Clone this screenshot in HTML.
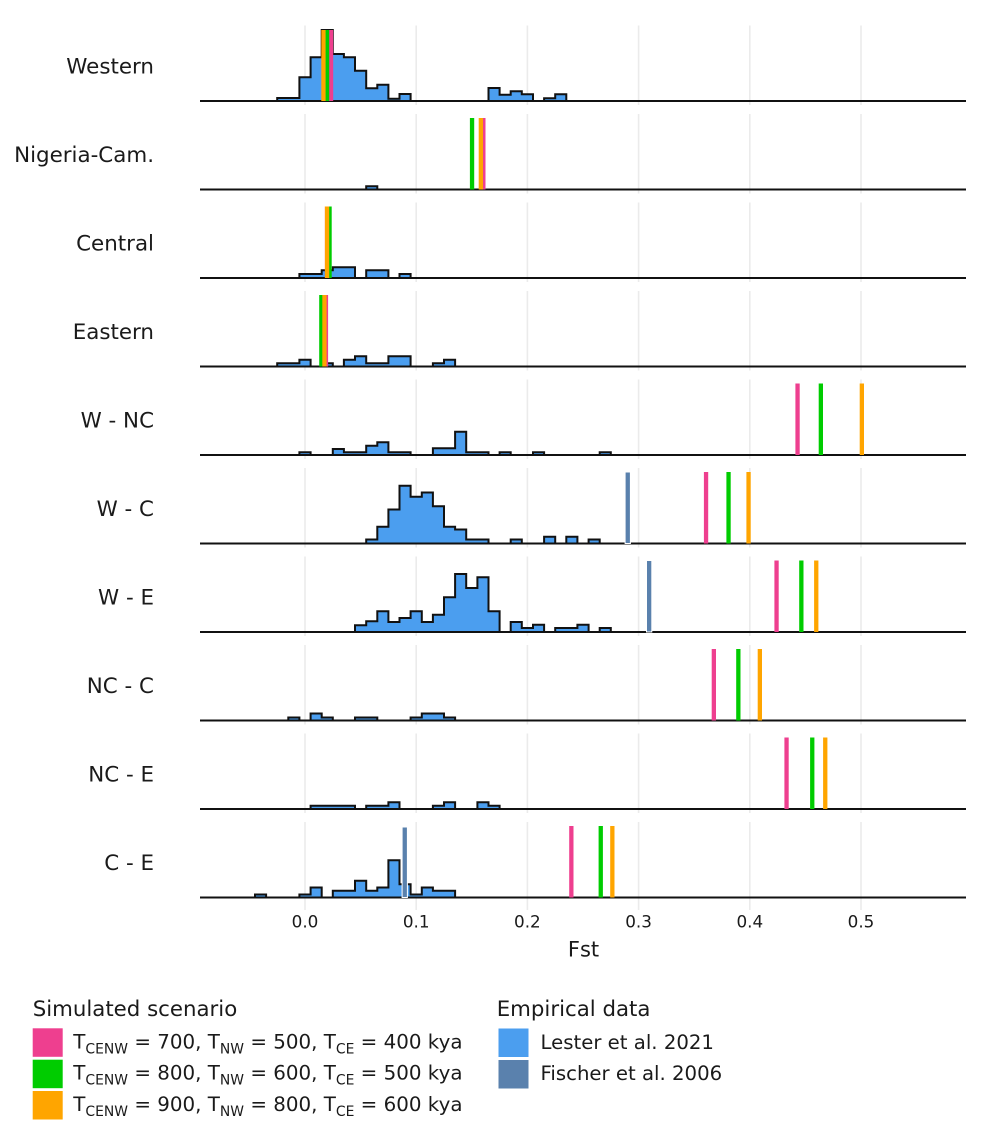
<!DOCTYPE html>
<html>
<head>
<meta charset="utf-8">
<style>
html,body{margin:0;padding:0;background:#fff;}
svg{display:block;}
text{font-family:"DejaVu Sans","Liberation Sans",sans-serif;fill:#1a1a1a;white-space:pre;}
</style>
</head>
<body>
<svg width="1006" height="1141" viewBox="0 0 1006 1141" xmlns="http://www.w3.org/2000/svg">
<rect x="0" y="0" width="1006" height="1141" fill="#fff"/>

<!-- gridlines -->
<g stroke="#ebebeb" stroke-width="1.6">
  <path d="M305 25.5V105 M416.2 25.5V105 M527.4 25.5V105 M638.6 25.5V105 M749.8 25.5V105 M861 25.5V105"/>
  <path d="M305 114V193.5 M416.2 114V193.5 M527.4 114V193.5 M638.6 114V193.5 M749.8 114V193.5 M861 114V193.5"/>
  <path d="M305 202.5V282 M416.2 202.5V282 M527.4 202.5V282 M638.6 202.5V282 M749.8 202.5V282 M861 202.5V282"/>
  <path d="M305 291V370.5 M416.2 291V370.5 M527.4 291V370.5 M638.6 291V370.5 M749.8 291V370.5 M861 291V370.5"/>
  <path d="M305 379.5V459 M416.2 379.5V459 M527.4 379.5V459 M638.6 379.5V459 M749.8 379.5V459 M861 379.5V459"/>
  <path d="M305 468V547.5 M416.2 468V547.5 M527.4 468V547.5 M638.6 468V547.5 M749.8 468V547.5 M861 468V547.5"/>
  <path d="M305 556.5V636 M416.2 556.5V636 M527.4 556.5V636 M638.6 556.5V636 M749.8 556.5V636 M861 556.5V636"/>
  <path d="M305 645V724.5 M416.2 645V724.5 M527.4 645V724.5 M638.6 645V724.5 M749.8 645V724.5 M861 645V724.5"/>
  <path d="M305 733.5V813 M416.2 733.5V813 M527.4 733.5V813 M638.6 733.5V813 M749.8 733.5V813 M861 733.5V813"/>
  <path d="M305 822V910 M416.2 822V910 M527.4 822V910 M638.6 822V910 M749.8 822V910 M861 822V910"/>
</g>

<!-- histogram fills -->
<g fill="#4b9eef" stroke="none">
  <path d="M277.2,101 V98 H299.4 V77.3 H310.6 V57.3 H321.7 V30 H332.8 V54 H343.9 V57.3 H355.0 V70.7 H366.2 V88.3 H377.3 V84.7 H388.4 V98.7 H399.5 V94 H410.6 V101 H488.5 V88 H499.6 V94.7 H510.7 V91.3 H521.8 V94.3 H533.0 V101 H544.1 V98.3 H555.2 V94.3 H566.3 V101 Z"/>
  <path d="M366.2,189.5 V186.2 H377.3 V189.5 Z"/>
  <path d="M299.4,278 V274 H321.7 V270.3 H332.8 V267.3 H355.0 V278 H366.2 V270.3 H388.4 V278 H399.5 V274 H410.6 V278 Z"/>
  <path d="M277.2,366.5 V363.2 H299.4 V359.8 H310.6 V366.5 H321.7 V363.2 H332.8 V366.5 H343.9 V359.8 H355.0 V356.2 H366.2 V363.2 H388.4 V356.2 H410.6 V366.5 H432.9 V363.2 H444.0 V359.8 H455.1 V366.5 Z"/>
  <path d="M299.4,455 V452.3 H310.6 V455 H332.8 V449 H343.9 V452.3 H366.2 V445.7 H377.3 V442.3 H388.4 V452.3 H410.6 V455 H432.9 V448.3 H455.1 V431.7 H466.2 V452.3 H488.5 V455 H499.6 V452.3 H510.7 V455 H533.0 V452.3 H544.1 V455 H599.7 V452.3 H610.8 V455 Z"/>
  <path d="M366.2,543.5 V539.5 H377.3 V526.8 H388.4 V509.5 H399.5 V485.8 H410.6 V496.8 H421.8 V492.5 H432.9 V506.2 H444.0 V526.8 H455.1 V529.5 H466.2 V539.5 H488.5 V543.5 H510.7 V539.5 H521.8 V543.5 H544.1 V536.8 H555.2 V543.5 H566.3 V536.8 H577.4 V543.5 H588.6 V539.5 H599.7 V543.5 Z"/>
  <path d="M355.0,632 V625.3 H366.2 V621.3 H377.3 V611.3 H388.4 V622 H399.5 V618 H410.6 V611.3 H421.8 V622 H432.9 V614.7 H444.0 V597.3 H455.1 V574 H466.2 V588 H477.4 V577.3 H488.5 V611.3 H499.6 V632 H510.7 V622 H521.8 V628 H533.0 V624.7 H544.1 V632 H555.2 V628 H577.4 V624.7 H588.6 V632 H599.7 V628 H610.8 V632 Z"/>
  <path d="M288.3,720.5 V717.5 H299.4 V720.5 H310.6 V713.5 H321.7 V717.5 H332.8 V720.5 H355.0 V717.5 H377.3 V720.5 H410.6 V717.5 H421.8 V713.5 H444.0 V717.5 H455.1 V720.5 Z"/>
  <path d="M310.6,809 V805.7 H355.0 V809 H366.2 V805.7 H388.4 V802.3 H399.5 V809 H432.9 V805.7 H444.0 V802.3 H455.1 V809 H477.4 V802.3 H488.5 V805.7 H499.6 V809 Z"/>
  <path d="M255.0,897.5 V894.5 H266.1 V897.5 H299.4 V894.5 H310.6 V887.5 H321.7 V897.5 H332.8 V890.8 H355.0 V880.8 H366.2 V890.8 H377.3 V887.5 H388.4 V860.2 H399.5 V884.2 H410.6 V894.5 H421.8 V887.5 H432.9 V890.8 H455.1 V897.5 Z"/>
</g>

<!-- baselines + histogram outlines -->
<g fill="none" stroke="#111" stroke-width="2" stroke-linejoin="miter">
  <path d="M200 101H966 M200 189.5H966 M200 278H966 M200 366.5H966 M200 455H966 M200 543.5H966 M200 632H966 M200 720.5H966 M200 809H966 M200 897.5H966"/>
  <path d="M277.2,101 V98 H299.4 V77.3 H310.6 V57.3 H321.7 V30 H332.8 V54 H343.9 V57.3 H355.0 V70.7 H366.2 V88.3 H377.3 V84.7 H388.4 V98.7 H399.5 V94 H410.6 V101 H488.5 V88 H499.6 V94.7 H510.7 V91.3 H521.8 V94.3 H533.0 V101 H544.1 V98.3 H555.2 V94.3 H566.3 V101"/>
  <path d="M366.2,189.5 V186.2 H377.3 V189.5"/>
  <path d="M299.4,278 V274 H321.7 V270.3 H332.8 V267.3 H355.0 V278 H366.2 V270.3 H388.4 V278 H399.5 V274 H410.6 V278"/>
  <path d="M277.2,366.5 V363.2 H299.4 V359.8 H310.6 V366.5 H321.7 V363.2 H332.8 V366.5 H343.9 V359.8 H355.0 V356.2 H366.2 V363.2 H388.4 V356.2 H410.6 V366.5 H432.9 V363.2 H444.0 V359.8 H455.1 V366.5"/>
  <path d="M299.4,455 V452.3 H310.6 V455 H332.8 V449 H343.9 V452.3 H366.2 V445.7 H377.3 V442.3 H388.4 V452.3 H410.6 V455 H432.9 V448.3 H455.1 V431.7 H466.2 V452.3 H488.5 V455 H499.6 V452.3 H510.7 V455 H533.0 V452.3 H544.1 V455 H599.7 V452.3 H610.8 V455"/>
  <path d="M366.2,543.5 V539.5 H377.3 V526.8 H388.4 V509.5 H399.5 V485.8 H410.6 V496.8 H421.8 V492.5 H432.9 V506.2 H444.0 V526.8 H455.1 V529.5 H466.2 V539.5 H488.5 V543.5 H510.7 V539.5 H521.8 V543.5 H544.1 V536.8 H555.2 V543.5 H566.3 V536.8 H577.4 V543.5 H588.6 V539.5 H599.7 V543.5"/>
  <path d="M355.0,632 V625.3 H366.2 V621.3 H377.3 V611.3 H388.4 V622 H399.5 V618 H410.6 V611.3 H421.8 V622 H432.9 V614.7 H444.0 V597.3 H455.1 V574 H466.2 V588 H477.4 V577.3 H488.5 V611.3 H499.6 V632 H510.7 V622 H521.8 V628 H533.0 V624.7 H544.1 V632 H555.2 V628 H577.4 V624.7 H588.6 V632 H599.7 V628 H610.8 V632"/>
  <path d="M288.3,720.5 V717.5 H299.4 V720.5 H310.6 V713.5 H321.7 V717.5 H332.8 V720.5 H355.0 V717.5 H377.3 V720.5 H410.6 V717.5 H421.8 V713.5 H444.0 V717.5 H455.1 V720.5"/>
  <path d="M310.6,809 V805.7 H355.0 V809 H366.2 V805.7 H388.4 V802.3 H399.5 V809 H432.9 V805.7 H444.0 V802.3 H455.1 V809 H477.4 V802.3 H488.5 V805.7 H499.6 V809"/>
  <path d="M255.0,897.5 V894.5 H266.1 V897.5 H299.4 V894.5 H310.6 V887.5 H321.7 V897.5 H332.8 V890.8 H355.0 V880.8 H366.2 V890.8 H377.3 V887.5 H388.4 V860.2 H399.5 V884.2 H410.6 V894.5 H421.8 V887.5 H432.9 V890.8 H455.1 V897.5"/>
</g>

<!-- vertical lines -->
<g>
  <rect x="328.9" y="30" width="4.3" height="71" fill="#ee3f8f"/>
  <rect x="324.9" y="30" width="4.3" height="71" fill="#00cc00"/>
  <rect x="321.3" y="30" width="4.3" height="71" fill="#ffa500"/>

  <rect x="481.2" y="118" width="4.3" height="71.5" fill="#ee3f8f"/>
  <rect x="469.9" y="118" width="4.3" height="71.5" fill="#00cc00"/>
  <rect x="478.7" y="118" width="4.3" height="71.5" fill="#ffa500"/>

  <rect x="324.9" y="206.5" width="4.3" height="71.5" fill="#ee3f8f"/>
  <rect x="327.4" y="206.5" width="4.3" height="71.5" fill="#00cc00"/>
  <rect x="324.9" y="206.5" width="4.3" height="71.5" fill="#ffa500"/>

  <rect x="323.8" y="295" width="4.3" height="71.5" fill="#ee3f8f"/>
  <rect x="319.2" y="295" width="4.3" height="71.5" fill="#00cc00"/>
  <rect x="322.3" y="295" width="4.3" height="71.5" fill="#ffa500"/>

  <rect x="795.4" y="383.5" width="4.3" height="71.5" fill="#ee3f8f"/>
  <rect x="818.7" y="383.5" width="4.3" height="71.5" fill="#00cc00"/>
  <rect x="859.7" y="383.5" width="4.3" height="71.5" fill="#ffa500"/>

  <rect x="625.1" y="472" width="5.3" height="71.5" fill="#5a81ad" stroke="#fff" stroke-width="1"/>
  <rect x="703.9" y="472" width="4.3" height="71.5" fill="#ee3f8f"/>
  <rect x="726.4" y="472" width="4.3" height="71.5" fill="#00cc00"/>
  <rect x="746.4" y="472" width="4.3" height="71.5" fill="#ffa500"/>

  <rect x="646.5" y="560.5" width="5.3" height="71.5" fill="#5a81ad" stroke="#fff" stroke-width="1"/>
  <rect x="774.4" y="560.5" width="4.3" height="71.5" fill="#ee3f8f"/>
  <rect x="799.2" y="560.5" width="4.3" height="71.5" fill="#00cc00"/>
  <rect x="814.1" y="560.5" width="4.3" height="71.5" fill="#ffa500"/>

  <rect x="711.7" y="649" width="4.3" height="71.5" fill="#ee3f8f"/>
  <rect x="736.2" y="649" width="4.3" height="71.5" fill="#00cc00"/>
  <rect x="757.7" y="649" width="4.3" height="71.5" fill="#ffa500"/>

  <rect x="784.4" y="737.5" width="4.3" height="71.5" fill="#ee3f8f"/>
  <rect x="810.1" y="737.5" width="4.3" height="71.5" fill="#00cc00"/>
  <rect x="823.1" y="737.5" width="4.3" height="71.5" fill="#ffa500"/>

  <rect x="402.1" y="827" width="5.3" height="70.5" fill="#5a81ad" stroke="#fff" stroke-width="1"/>
  <rect x="569.2" y="826" width="4.3" height="71.5" fill="#ee3f8f"/>
  <rect x="598.6" y="826" width="4.3" height="71.5" fill="#00cc00"/>
  <rect x="610.2" y="826" width="4.3" height="71.5" fill="#ffa500"/>
</g>

<!-- y labels -->
<g font-size="21.4" text-anchor="end">
  <text x="154" y="73.3">Western</text>
  <text x="154" y="161.8">Nigeria-Cam.</text>
  <text x="154" y="250.3">Central</text>
  <text x="154" y="338.8">Eastern</text>
  <text x="154" y="427.3">W - NC</text>
  <text x="154" y="515.8">W - C</text>
  <text x="154" y="604.3">W - E</text>
  <text x="154" y="692.8">NC - C</text>
  <text x="154" y="781.3">NC - E</text>
  <text x="154" y="869.8">C - E</text>
</g>

<!-- x tick labels -->
<g font-size="16.8" text-anchor="middle">
  <text x="305" y="927.3">0.0</text>
  <text x="416.2" y="927.3">0.1</text>
  <text x="527.4" y="927.3">0.2</text>
  <text x="638.6" y="927.3">0.3</text>
  <text x="749.8" y="927.3">0.4</text>
  <text x="861" y="927.3">0.5</text>
</g>
<text x="583.5" y="956.7" font-size="21" text-anchor="middle">Fst</text>

<!-- Legend: Simulated scenario -->
<text x="32.7" y="1016" font-size="21.3">Simulated scenario</text>
<rect x="32.7" y="1028.3" width="30" height="28.5" fill="#ee3f8f"/>
<rect x="32.7" y="1059.7" width="30" height="28.5" fill="#00cc00"/>
<rect x="32.7" y="1091" width="30" height="28.5" fill="#ffa500"/>
<g font-size="19.85">
  <text x="73.3" y="1048.5">T<tspan font-size="13.9" dy="5">CENW</tspan><tspan dy="-5"> = 700, T</tspan><tspan font-size="13.9" dy="5">NW</tspan><tspan dy="-5"> = 500, T</tspan><tspan font-size="13.9" dy="5">CE</tspan><tspan dy="-5"> = 400 kya</tspan></text>
  <text x="73.3" y="1079.7">T<tspan font-size="13.9" dy="5">CENW</tspan><tspan dy="-5"> = 800, T</tspan><tspan font-size="13.9" dy="5">NW</tspan><tspan dy="-5"> = 600, T</tspan><tspan font-size="13.9" dy="5">CE</tspan><tspan dy="-5"> = 500 kya</tspan></text>
  <text x="73.3" y="1110.9">T<tspan font-size="13.9" dy="5">CENW</tspan><tspan dy="-5"> = 900, T</tspan><tspan font-size="13.9" dy="5">NW</tspan><tspan dy="-5"> = 800, T</tspan><tspan font-size="13.9" dy="5">CE</tspan><tspan dy="-5"> = 600 kya</tspan></text>
</g>

<!-- Legend: Empirical data -->
<text x="496.7" y="1016" font-size="21.3">Empirical data</text>
<rect x="498.5" y="1028.5" width="30" height="28.5" fill="#4b9eef"/>
<rect x="498.5" y="1060" width="30" height="28.5" fill="#5a81ad"/>
<g font-size="19.7">
  <text x="540.5" y="1049">Lester et al. 2021</text>
  <text x="540.5" y="1080.2">Fischer et al. 2006</text>
</g>
</svg>
</body>
</html>
